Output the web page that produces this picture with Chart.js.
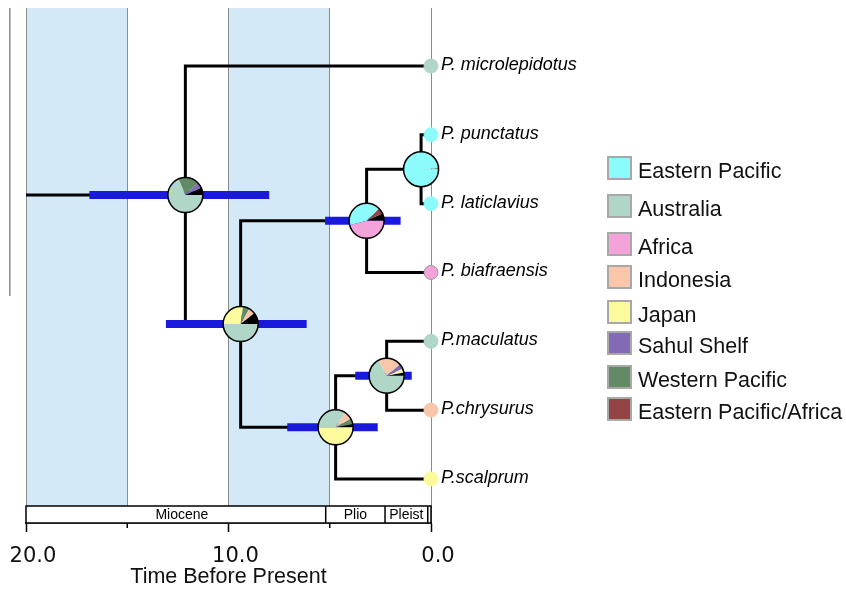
<!DOCTYPE html>
<html>
<head>
<meta charset="utf-8">
<script src="https://cdn.jsdelivr.net/npm/chart.js"></script>
<style>
  html, body { margin: 0; padding: 0; background: #fff; }
  #wrap { width: 846px; height: 589px; position: relative; }
</style>
</head>
<body>
<div id="wrap"><canvas id="treeChart"></canvas></div>
<script>
// regions (legend) and their colours
const regions = ["Eastern Pacific", "Australia", "Africa", "Indonesia", "Japan",
  "Sahul Shelf", "Western Pacific", "Eastern Pacific/Africa"];
const regionColors = ["#8cfbfb", "#afd6c6", "#f4a3da", "#f9c6aa", "#fbfb9b",
  "#826ab4", "#628a64", "#944444"];
const otherColor = "#000000";

// tips
const tipNames = ["P. microlepidotus", "P. punctatus", "P. laticlavius", "P. biafraensis",
  "P.maculatus", "P.chrysurus", "P.scalprum"];
const tipRows = [1, 2, 3, 4, 5, 6, 7];
const tipRegion = [1, 0, 0, 2, 1, 3, 4];

// internal nodes (Ma before present)
const nodeAges = [12.13, 9.40, 3.18, 0.49, 4.71, 2.19];
const nodeRows = [2.875, 4.75, 3.25, 2.5, 6.25, 5.5];
const nodeChildren = [["t0", "n1"], ["n2", "n4"], ["n3", "t3"], ["t1", "t2"], ["n5", "t6"], ["t4", "t5"]];
const hpdLow = [16.87, 13.09, 5.23, null, 7.10, 3.74];
const hpdHigh = [7.99, 6.14, 1.50, null, 2.63, 0.95];
const rootStemAge = 20;

// ancestral area probabilities per node (region order above) + rest
const pieProbs = [
  [0, 0.685, 0, 0, 0, 0.055, 0.19, 0],
  [0, 0.50, 0, 0.06, 0.27, 0, 0.06, 0],
  [0.415, 0, 0.46, 0, 0, 0, 0, 0.055],
  [0.99, 0, 0, 0, 0, 0, 0, 0],
  [0, 0.34, 0, 0.075, 0.50, 0, 0.055, 0],
  [0, 0.675, 0, 0.21, 0.035, 0.05, 0, 0]
];
const pieOther = [0.07, 0.11, 0.07, 0.01, 0.03, 0.03];

// time scale
const xTicks = [20, 15, 10, 5, 0];
const bandStart = [20, 10];
const bandEnd = [15, 5];
const epochNames = ["Miocene", "Plio", "Pleist", ""];
const epochStart = [20, 5.2, 2.27, 0.16];
const epochEnd = [5.2, 2.27, 0.16, 0];

function ageOf(id) {
  return id[0] === "t" ? 0 : nodeAges[+id.slice(1)];
}
function rowOf(id) {
  return id[0] === "t" ? tipRows[+id.slice(1)] : nodeRows[+id.slice(1)];
}

const datasets = [];

// root stem
datasets.push({
  data: [{ x: rootStemAge, y: nodeRows[0] }, { x: nodeAges[0], y: nodeRows[0] }],
  showLine: true, borderColor: "#000", borderWidth: 3, pointRadius: 0, order: 3, clip: false
});

// branches: one bracket per internal node
nodeChildren.forEach((kids, i) => {
  const a = kids[0], b = kids[1];
  datasets.push({
    data: [
      { x: ageOf(a), y: rowOf(a) },
      { x: nodeAges[i], y: rowOf(a) },
      { x: nodeAges[i], y: rowOf(b) },
      { x: ageOf(b), y: rowOf(b) }
    ],
    showLine: true, borderColor: "#000", borderWidth: 3, pointRadius: 0,
    borderJoinStyle: "miter", borderCapStyle: "square", order: 3, clip: false
  });
});

// HPD bars
nodeAges.forEach((age, i) => {
  if (hpdLow[i] === null) return;
  datasets.push({
    data: [{ x: hpdLow[i], y: nodeRows[i] }, { x: hpdHigh[i], y: nodeRows[i] }],
    showLine: true, borderColor: "#1a1adc", borderWidth: 8, pointRadius: 0,
    borderCapStyle: "butt", order: 2, clip: false
  });
});

// tip states
datasets.push({
  data: tipRows.map((r) => ({ x: 0, y: r })),
  showLine: false,
  pointRadius: 7,
  pointBackgroundColor: tipRegion.map((k) => regionColors[k]),
  pointBorderColor: tipRegion.map((k) => (k === 2 ? "#9a9a9a" : regionColors[k])),
  pointBorderWidth: 1,
  order: 1, clip: false
});

const treePlugin = {
  id: "treeExtras",
  beforeDraw(chart) {
    const { ctx, chartArea } = chart;
    const xs = chart.scales.x, ys = chart.scales.y;
    ctx.save();
    // epoch shading
    ctx.fillStyle = "#d4e9f7";
    bandStart.forEach((s, i) => {
      const x1 = xs.getPixelForValue(s), x2 = xs.getPixelForValue(bandEnd[i]);
      ctx.fillRect(x1, chartArea.top, x2 - x1, chartArea.bottom - chartArea.top);
    });
    // stray frame line at far left
    ctx.strokeStyle = "#888";
    ctx.lineWidth = 1.5;
    ctx.beginPath();
    ctx.moveTo(xs.getPixelForValue(20.8), chartArea.top);
    ctx.lineTo(xs.getPixelForValue(20.8), ys.getPixelForValue(4.34));
    ctx.stroke();
    ctx.restore();
  },
  beforeDatasetsDraw(chart) {
    const { ctx, chartArea } = chart;
    const xs = chart.scales.x;
    const top = chartArea.bottom - 17, bottom = chartArea.bottom;
    ctx.save();
    ctx.fillStyle = "#fff";
    ctx.fillRect(chartArea.left, top, chartArea.right - chartArea.left, bottom - top);
    ctx.strokeStyle = "#000";
    ctx.lineWidth = 1.5;
    ctx.strokeRect(chartArea.left, top, chartArea.right - chartArea.left, bottom - top);
    ctx.font = '14px "Liberation Sans"';
    ctx.fillStyle = "#000";
    ctx.textAlign = "center";
    ctx.textBaseline = "middle";
    epochStart.forEach((s, i) => {
      const x1 = xs.getPixelForValue(s), x2 = xs.getPixelForValue(epochEnd[i]);
      if (i > 0) {
        ctx.beginPath();
        ctx.moveTo(x1, top);
        ctx.lineTo(x1, bottom);
        ctx.stroke();
      }
      if (epochNames[i]) ctx.fillText(epochNames[i], (x1 + x2) / 2 + (i === 0 ? 6 : 0), (top + bottom) / 2 + 1);
    });
    // short minor ticks under the axis
    ctx.lineWidth = 1.5;
    xTicks.forEach((v) => {
      if (v % 10 === 0) return;
      const x = xs.getPixelForValue(v);
      ctx.beginPath();
      ctx.moveTo(x, bottom);
      ctx.lineTo(x, bottom + 5);
      ctx.stroke();
    });
    ctx.restore();
  },
  afterDatasetsDraw(chart) {
    const { ctx } = chart;
    const xs = chart.scales.x, ys = chart.scales.y;
    ctx.save();
    // pies at nodes: rest first from east, then areas by increasing probability, anticlockwise
    nodeAges.forEach((age, i) => {
      const cx = xs.getPixelForValue(age), cy = ys.getPixelForValue(nodeRows[i]);
      const r = 17.5;
      const slices = [{ p: pieOther[i], c: otherColor }];
      pieProbs[i]
        .map((p, k) => ({ p: p, c: regionColors[k] }))
        .filter((s) => s.p > 0)
        .sort((a, b) => a.p - b.p)
        .forEach((s) => slices.push(s));
      const total = slices.reduce((t, s) => t + s.p, 0);
      let a = 0;
      slices.forEach((s) => {
        const b = a - (s.p / total) * Math.PI * 2;
        ctx.beginPath();
        ctx.moveTo(cx, cy);
        ctx.arc(cx, cy, r, a, b, true);
        ctx.closePath();
        ctx.fillStyle = s.c;
        ctx.fill();
        a = b;
      });
      ctx.beginPath();
      ctx.arc(cx, cy, r, 0, Math.PI * 2);
      ctx.strokeStyle = "#000";
      ctx.lineWidth = 1.5;
      ctx.stroke();
    });
    // tip labels
    ctx.font = 'italic 18px "Liberation Sans"';
    ctx.fillStyle = "#000";
    ctx.textAlign = "left";
    ctx.textBaseline = "middle";
    tipNames.forEach((name, i) => {
      ctx.fillText(name, xs.getPixelForValue(0) + 10, ys.getPixelForValue(tipRows[i]) - 1);
    });
    // legend
    const legendTops = [157, 195, 233, 266, 301, 332, 366, 398];
    ctx.font = '21.5px "Liberation Sans"';
    regions.forEach((name, i) => {
      const y = legendTops[i];
      ctx.fillStyle = regionColors[i];
      ctx.fillRect(608, y, 23, 22);
      ctx.strokeStyle = "#a8a8a8";
      ctx.lineWidth = 2;
      ctx.strokeRect(608, y, 23, 22);
      ctx.fillStyle = "#111";
      ctx.fillText(name, 638, y + 15);
    });
    ctx.restore();
  }
};

new Chart("treeChart", {
  type: "scatter",
  data: { datasets: datasets },
  options: {
    responsive: true,
    maintainAspectRatio: false,
    animation: false,
    layout: { padding: { left: 26, right: 415, top: 8, bottom: 1 } },
    plugins: { legend: { display: false }, tooltip: { enabled: false } },
    scales: {
      x: {
        type: "linear",
        reverse: true,
        min: 0,
        max: 20,
        afterBuildTicks: (scale) => { scale.ticks = xTicks.map((v) => ({ value: v })); },
        afterFit: (scale) => { scale.paddingLeft = 0; scale.paddingRight = 0; },
        ticks: {
          autoSkip: false,
          maxRotation: 0,
          padding: 14.5,
          labelOffset: 7,
          color: "#111",
          font: { family: "DejaVu Sans", size: 21, lineHeight: 1 },
          callback: (v) => (v % 10 === 0 ? v.toFixed(1) : "")
        },
        grid: {
          color: "#8c8c8c",
          lineWidth: 1,
          drawTicks: true,
          tickLength: 9,
          tickWidth: 1.5,
          tickColor: (c) => (c.tick && c.tick.value % 10 === 0 ? "#000" : "rgba(0,0,0,0)")
        },
        border: { display: true, color: "#000", width: 1.5 },
        title: {
          display: true,
          text: "Time Before Present",
          color: "#111",
          font: { family: "Liberation Sans", size: 21.5, lineHeight: 1 },
          padding: { top: -15.5, bottom: 0 }
        }
      },
      y: { type: "linear", reverse: true, min: 0.157, max: 7.64, display: false }
    }
  },
  plugins: [treePlugin]
});
</script>
</body>
</html>
